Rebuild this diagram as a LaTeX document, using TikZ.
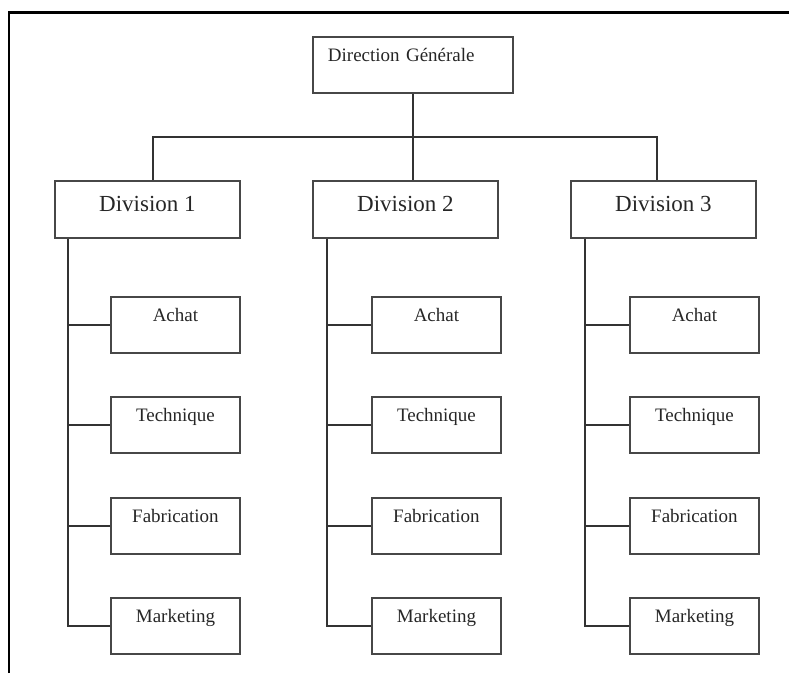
\documentclass[tikz,border=0pt]{standalone}
\usepackage{fontspec}
\setmainfont{Liberation Serif}
\begin{document}
\begin{tikzpicture}[x=1pt,y=-1pt,
  boxline/.style={draw=black!72, line width=1.9pt},
  conn/.style={draw=black!80, line width=1.2pt},
  frame/.style={draw=black, line width=2.2pt},
  dgbox/.style={boxline, anchor=north west, inner sep=0pt, minimum width=200pt, minimum height=56pt,
     text width=170pt, align=left, text height=25pt, text depth=31pt,
     font=\fontsize{19}{22}\selectfont, text=black!85},
  divbox/.style={boxline, anchor=north west, inner sep=0pt, minimum width=185pt, minimum height=57pt,
     text height=30.5pt, text depth=26.5pt, font=\fontsize{23}{26}\selectfont, text=black!85},
  subbox/.style={boxline, anchor=north west, inner sep=0pt, minimum width=129pt, minimum height=56pt,
     text height=25pt, text depth=31pt, font=\fontsize{19}{22}\selectfont, text=black!85}
]
\useasboundingbox (0,0) rectangle (789,673);
% frame
\draw[frame] (9,673) -- (9,12.5) -- (789,12.5);

% top
\node[dgbox] (dg) at (312,36) {Direction Générale};

% divisions
\node[divbox] (d1) at (54,180) {Division 1};
\node[divbox] (d2) at (312,180) {Division 2};
\node[divbox] (d3) at (570,180) {Division 3};

% bus
\coordinate (b1) at (153,137);
\coordinate (b3) at (657,137);
\draw[conn] (dg.south) -- (dg.south |- d2.north);
\draw[conn] (b1 |- d1.north) -- (b1) -- (b3) -- (b3 |- d3.north);

% sub boxes
\foreach \d/\sx/\bx in {1/68/110, 2/327/371, 3/585/629} {
  \node[subbox] (a\d) at (\bx,296) {Achat};
  \node[subbox] (t\d) at (\bx,396) {Technique};
  \node[subbox] (f\d) at (\bx,497) {Fabrication};
  \node[subbox] (m\d) at (\bx,597) {Marketing};
  \coordinate (s\d) at (\sx,237);
  \draw[conn] (s\d |- d\d.south) -- (s\d |- m\d.west) -- (m\d.west);
  \draw[conn] (s\d |- a\d.west) -- (a\d.west);
  \draw[conn] (s\d |- t\d.west) -- (t\d.west);
  \draw[conn] (s\d |- f\d.west) -- (f\d.west);
}
\end{tikzpicture}
\end{document}
